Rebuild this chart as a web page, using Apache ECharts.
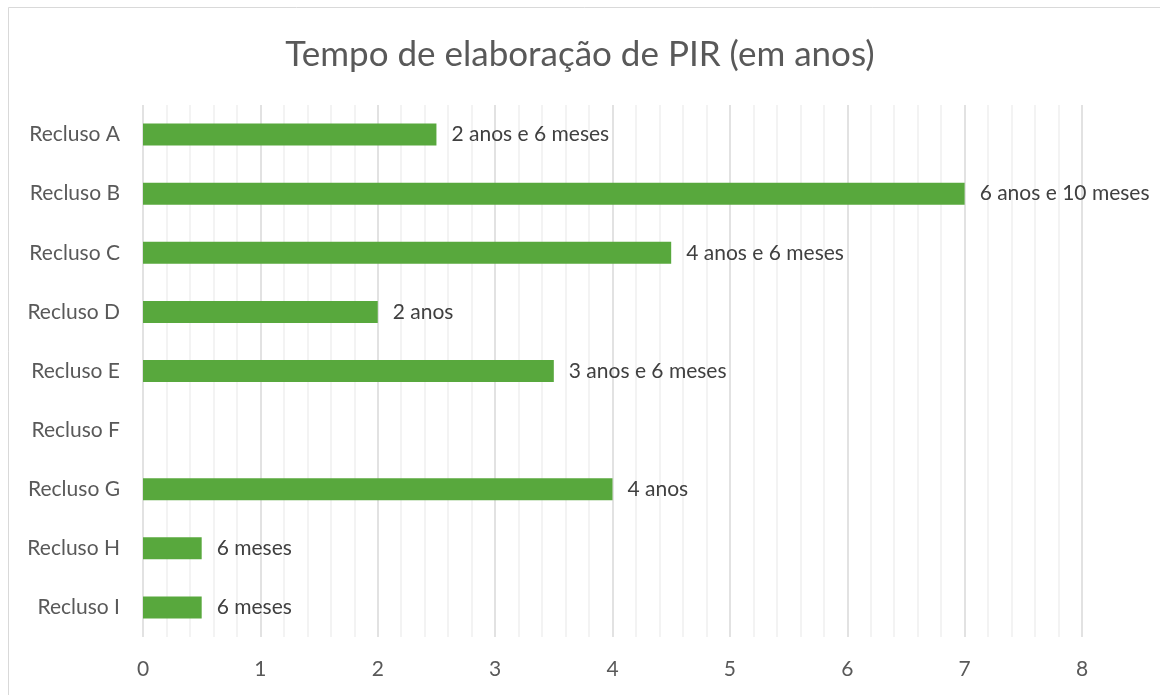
<!DOCTYPE html>
<html>
<head>
<meta charset="utf-8">
<script src="https://cdn.jsdelivr.net/npm/echarts@6/dist/echarts.min.js"></script>
<style>
  html, body { margin: 0; padding: 0; background: #fff; }
  #main { width: 1160px; height: 695px; }
</style>
</head>
<body>
<div id="main"></div>
<script>
// dados
var categories = ['Recluso A', 'Recluso B', 'Recluso C', 'Recluso D', 'Recluso E', 'Recluso F', 'Recluso G', 'Recluso H', 'Recluso I'];
var anos = [2.5, 7, 4.5, 2, 3.5, null, 4, 0.5, 0.5];
var rotulos = ['2 anos e 6 meses', '6 anos e 10 meses', '4 anos e 6 meses', '2 anos', '3 anos e 6 meses', '', '4 anos', '6 meses', '6 meses'];
var xTicks = [0, 1, 2, 3, 4, 5, 6, 7, 8];

var font = 'Lato, "Open Sans", sans-serif';
var myChart = echarts.init(document.getElementById('main'));
var option = {
  backgroundColor: '#fff',
  animation: false,
  title: {
    text: 'Tempo de elaboração de PIR (em anos)',
    left: 'center',
    top: 32,
    textStyle: {
      color: '#595959',
      fontSize: 35,
      fontWeight: 'normal',
      fontFamily: font
    }
  },
  graphic: [{
    type: 'rect',
    shape: { x: 8.5, y: 7.5, width: 1200, height: 700 },
    style: { fill: 'none', stroke: '#d9d9d9', lineWidth: 1 },
    silent: true
  }],
  grid: {
    top: 105,
    left: 143,
    right: 78,
    bottom: 58
  },
  xAxis: {
    type: 'value',
    min: xTicks[0],
    max: xTicks[xTicks.length - 1],
    interval: 1,
    axisLine: { show: false },
    axisTick: { show: false },
    axisLabel: {
      color: '#595959',
      fontSize: 21,
      fontFamily: font,
      margin: 22
    },
    splitLine: {
      show: true,
      lineStyle: { color: '#d9d9d9', width: 1.5 }
    },
    minorTick: { show: false, splitNumber: 5 },
    minorSplitLine: {
      show: true,
      lineStyle: { color: '#f0f0f0', width: 1.5 }
    }
  },
  yAxis: {
    type: 'category',
    inverse: true,
    data: categories,
    axisLine: { show: false },
    axisTick: { show: false },
    axisLabel: {
      color: '#595959',
      fontSize: 21,
      fontFamily: font,
      margin: 23,
      padding: [3, 0, 0, 0]
    }
  },
  series: [{
    type: 'bar',
    data: anos,
    barWidth: 22,
    itemStyle: { color: '#58a83d' },
    label: {
      show: true,
      position: 'right',
      distance: 15,
      color: '#404040',
      fontSize: 21,
      fontFamily: font,
      padding: [3, 0, 0, 0],
      formatter: function (p) { return rotulos[p.dataIndex]; }
    }
  }]
};
myChart.setOption(option);
</script>
</body>
</html>
